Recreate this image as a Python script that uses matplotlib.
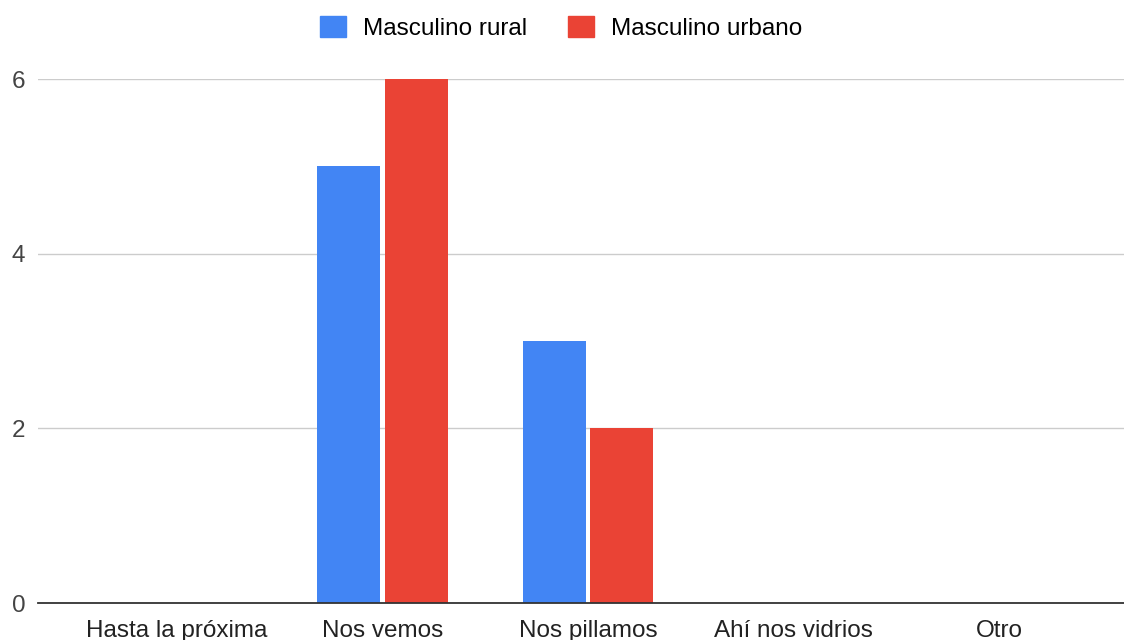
import numpy as np
import matplotlib
matplotlib.use("Agg")
import matplotlib.pyplot as plt
from matplotlib.patches import Patch

categories = ["Hasta la próxima", "Nos vemos", "Nos pillamos", "Ahí nos vidrios", "Otro"]
rural = [0, 5, 3, 0, 0]
urbano = [0, 6, 2, 0, 0]
series_names = ["Masculino rural", "Masculino urbano"]

blue = "#4285F4"
red = "#EA4335"

plt.rcParams['font.family'] = ['Liberation Sans', 'DejaVu Sans']
fs = 17.5

W, H = 1124, 640
fig = plt.figure(figsize=(W / 100, H / 100), dpi=100)
ax = fig.add_axes([38 / W, 37 / H, (W - 38) / W, 524 / H])

x = np.arange(len(categories))
bw = 0.307
ax.bar(x - 0.164, rural, width=bw, color=blue, zorder=3)
ax.bar(x + 0.164, urbano, width=bw, color=red, zorder=3)

ax.set_xlim(-0.675, 4.607)
ax.set_ylim(0, 6)
ax.set_yticks([0, 2, 4, 6])
ax.set_xticks(x)
ax.set_xticklabels(categories, fontsize=fs, color="#222222")
ax.tick_params(axis="y", labelsize=fs, labelcolor="#444444", length=0, pad=9)
ax.tick_params(axis="x", length=0, pad=12)

ax.grid(axis="y", color="#cccccc", linewidth=1, zorder=0)
for s in ["top", "right", "left"]:
    ax.spines[s].set_visible(False)
ax.spines["bottom"].set_color("#333333")
ax.spines["bottom"].set_linewidth(1.3)
ax.spines["bottom"].set_zorder(4)

handles = [Patch(color=blue), Patch(color=red)]
fig.legend(handles, series_names, loc="center", bbox_to_anchor=(561 / W, 1 - 28 / H),
           ncol=2, frameon=False, fontsize=fs, handlelength=1.05, handleheight=0.95,
           handletextpad=0.7, columnspacing=1.7)

fig.savefig("out.png", dpi=100)
